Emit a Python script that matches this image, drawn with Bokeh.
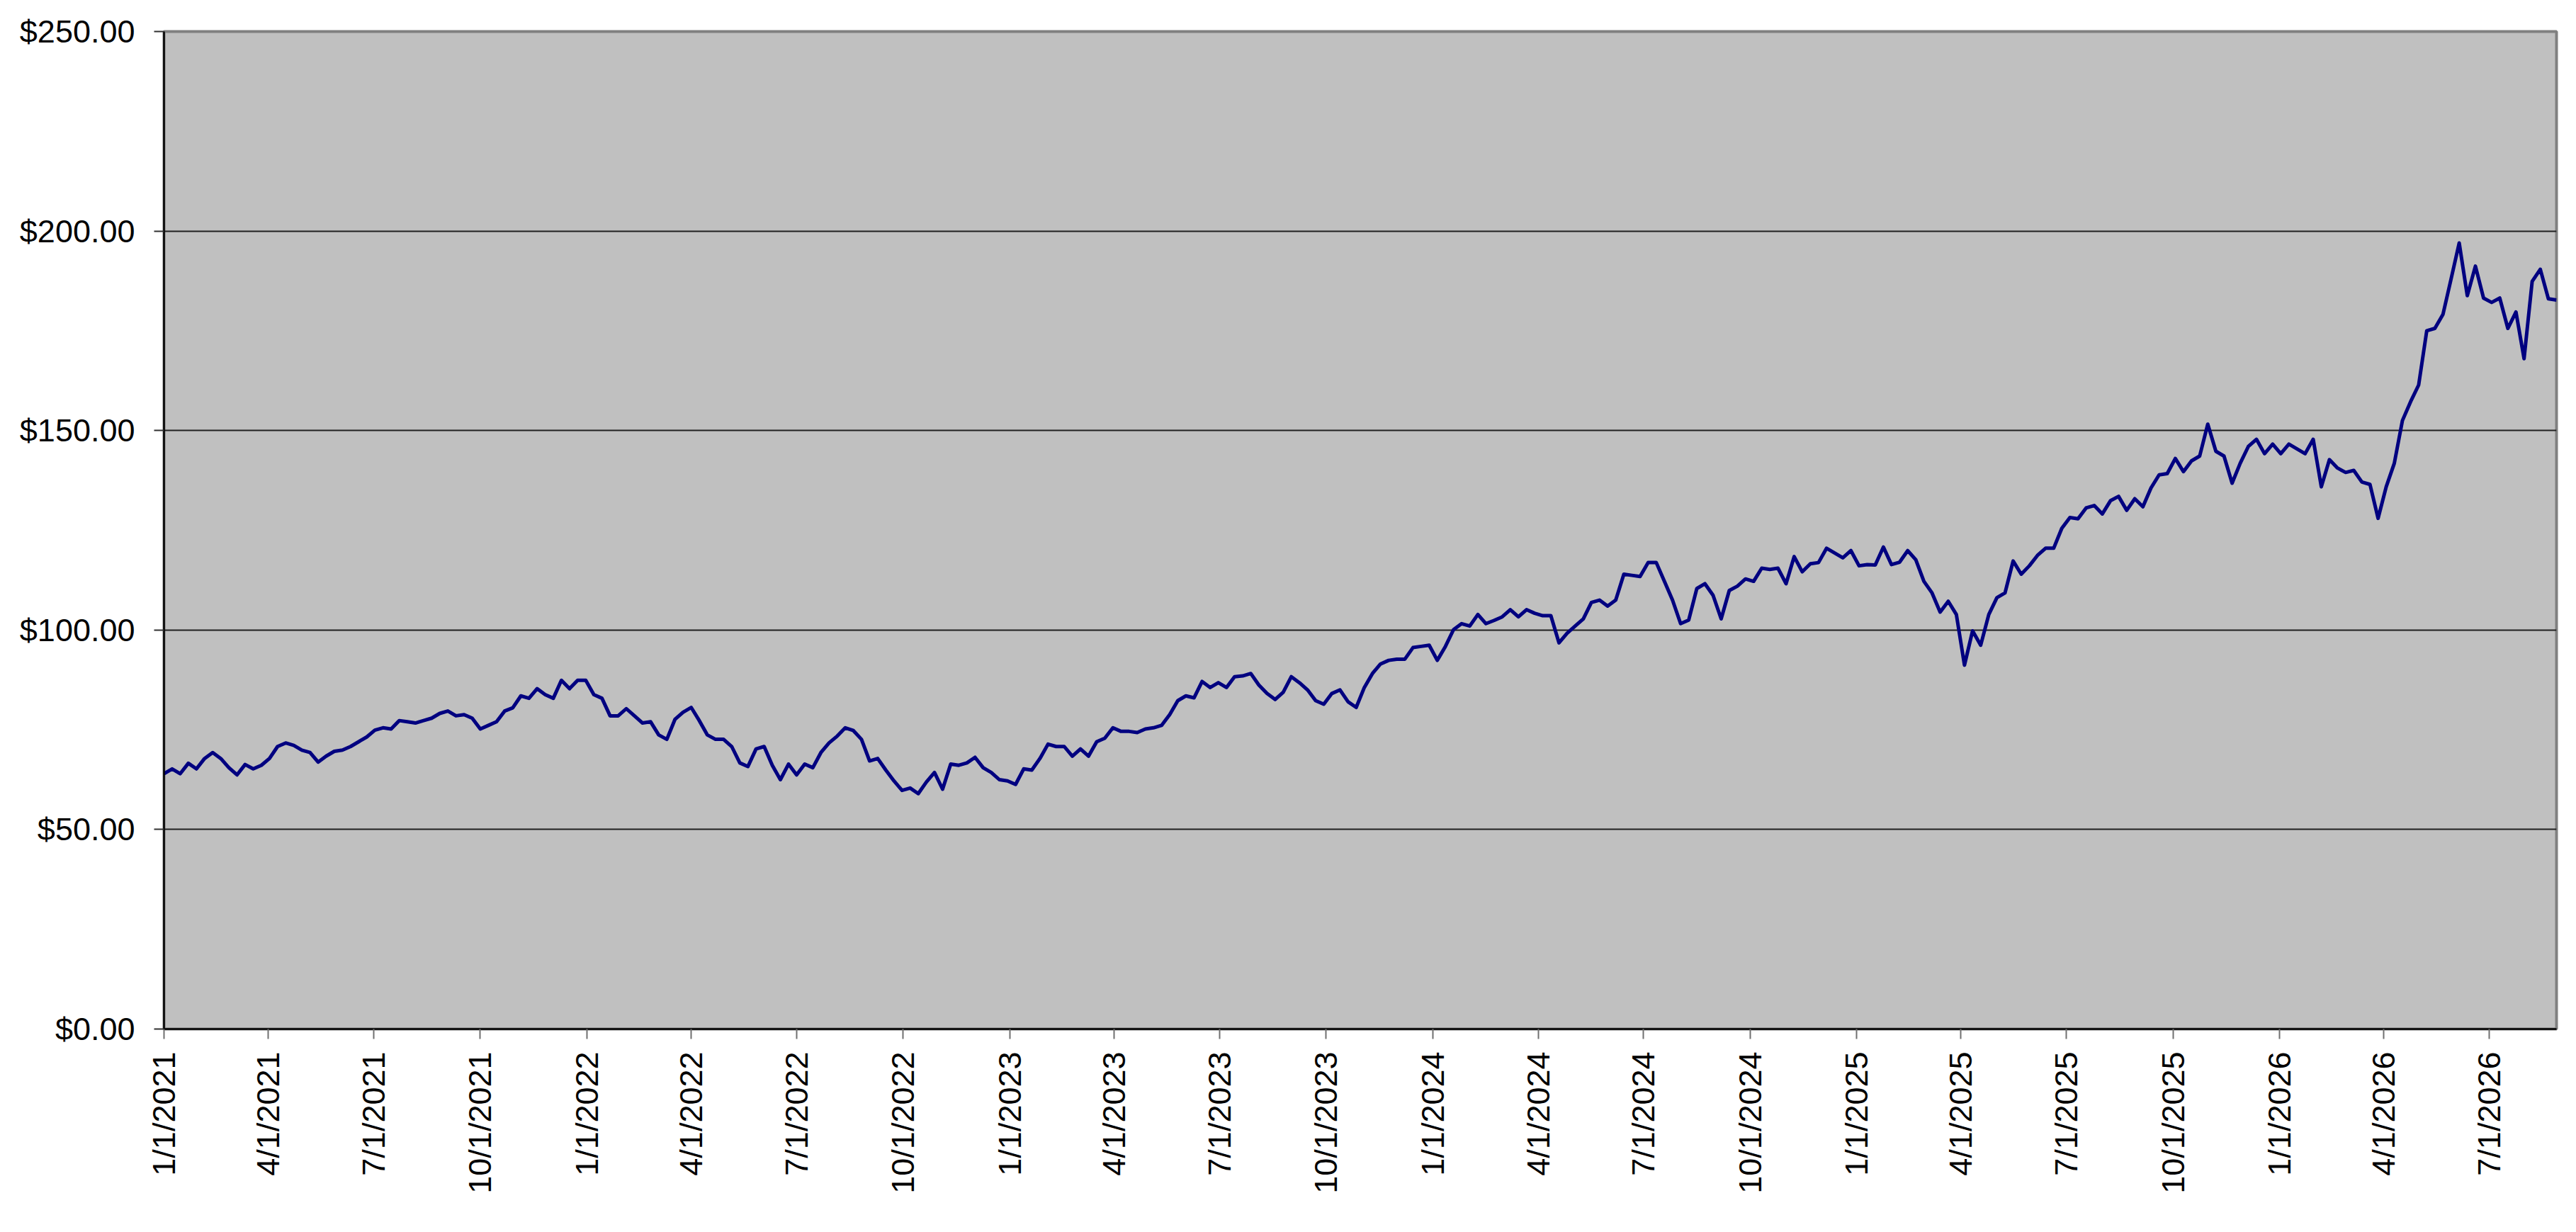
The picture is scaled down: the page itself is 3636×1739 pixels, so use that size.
import pandas as pd
from bokeh.plotting import figure
from bokeh.models import (Range1d, FixedTicker, NumeralTickFormatter,
                          CustomJSTickFormatter, ColumnDataSource)
from bokeh.embed import file_html
from bokeh.resources import INLINE

start_date = "2021-01-01"
end_date = "2026-08-28"

prices = [
    64.0, 65.2, 64.0, 66.6, 65.2, 67.8, 69.3, 67.8, 65.5, 63.7,
    66.3, 65.2, 66.1, 67.8, 70.8, 71.7, 71.1, 69.9, 69.3, 66.9,
    68.4, 69.6, 69.9, 70.8, 72.0, 73.2, 74.9, 75.5, 75.2, 77.3,
    77.0, 76.7, 77.3, 77.9, 79.1, 79.7, 78.5, 78.8, 77.9, 75.2,
    76.1, 77.0, 79.7, 80.5, 83.5, 82.9, 85.3, 83.8, 82.9, 87.4,
    85.3, 87.4, 87.4, 83.8, 82.9, 78.5, 78.5, 80.3, 78.5, 76.7,
    77.0, 73.7, 72.6, 77.6, 79.4, 80.6, 77.3, 73.7, 72.6, 72.6,
    70.8, 66.7, 65.8, 70.2, 70.8, 66.1, 62.5, 66.4, 63.7, 66.4,
    65.5, 69.3, 71.7, 73.4, 75.5, 74.8, 72.6, 67.2, 67.8, 64.9,
    62.2, 59.8, 60.4, 59.0, 61.9, 64.3, 60.1, 66.4, 66.1, 66.7,
    68.1, 65.5, 64.3, 62.5, 62.2, 61.3, 65.2, 64.9, 67.8, 71.4,
    70.8, 70.8, 68.4, 70.2, 68.4, 72.0, 72.9, 75.5, 74.6, 74.6,
    74.3, 75.2, 75.5, 76.1, 78.8, 82.3, 83.5, 83.0, 87.1, 85.6,
    86.8, 85.6, 88.3, 88.5, 89.1, 86.2, 84.1, 82.6, 84.4, 88.3,
    86.8, 85.0, 82.3, 81.4, 84.1, 85.0, 82.0, 80.6, 85.6, 89.1,
    91.5, 92.4, 92.7, 92.7, 95.6, 95.9, 96.2, 92.4, 95.9, 100.1,
    101.6, 101.0, 103.9, 101.6, 102.4, 103.3, 105.1, 103.3, 105.1, 104.2,
    103.6, 103.6, 96.8, 99.2, 101.0, 102.8, 106.9, 107.5, 106.0, 107.5,
    114.0, 113.7, 113.4, 116.9, 116.9, 112.2, 107.5, 101.6, 102.5, 110.4,
    111.6, 108.7, 102.8, 109.9, 111.0, 112.8, 112.2, 115.5, 115.2, 115.5,
    111.6, 118.4, 114.6, 116.6, 116.9, 120.5, 119.3, 118.1, 119.9, 116.1,
    116.4, 116.3, 120.8, 116.4, 117.0, 119.9, 117.6, 112.2, 109.3, 104.5,
    107.2, 103.9, 91.2, 99.8, 96.2, 103.9, 108.1, 109.3, 117.3, 114.0,
    116.1, 118.7, 120.5, 120.5, 125.5, 128.2, 127.9, 130.6, 131.2, 129.1,
    132.4, 133.5, 130.0, 132.9, 130.9, 135.6, 138.9, 139.2, 143.0, 139.7,
    142.4, 143.6, 151.6, 144.8, 143.6, 136.8, 141.8, 146.0, 147.8, 144.2,
    146.6, 144.2, 146.6, 145.4, 144.2, 147.8, 135.9, 142.7, 140.6, 139.5,
    140.0, 137.1, 136.5, 128.0, 135.9, 141.8, 152.5, 157.2, 161.4, 175.0,
    175.6, 179.1, 188.0, 197.0, 183.8, 191.2, 183.2, 182.1, 183.2, 175.6,
    179.7, 168.0, 187.4, 190.4, 183.0, 182.7,
]

x_tick_dates = [
    "2021-01-01", "2021-04-01", "2021-07-01", "2021-10-01",
    "2022-01-01", "2022-04-01", "2022-07-01", "2022-10-01",
    "2023-01-01", "2023-04-01", "2023-07-01", "2023-10-01",
    "2024-01-01", "2024-04-01", "2024-07-01", "2024-10-01",
    "2025-01-01", "2025-04-01", "2025-07-01", "2025-10-01",
    "2026-01-01", "2026-04-01", "2026-07-01",
]
y_ticks = [0, 50, 100, 150, 200, 250]

dates = pd.date_range(start_date, periods=len(prices), freq="7D")
src = ColumnDataSource(dict(date=dates, price=prices))

FONT = "Liberation Sans"

p = figure(width=3628, height=1730, x_axis_type="datetime",
           output_backend="svg", toolbar_location=None,
           x_range=Range1d(pd.Timestamp(start_date), pd.Timestamp(end_date)),
           y_range=Range1d(0, 250),
           min_border_left=231, min_border_right=20,
           min_border_top=44, min_border_bottom=278)

p.background_fill_color = "#C0C0C0"
p.border_fill_color = "white"
p.outline_line_color = "#808080"
p.outline_line_width = 4

p.line("date", "price", source=src, line_color="#000080", line_width=5,
       line_join="round")

tick_ms = [pd.Timestamp(d).value / 1e6 for d in x_tick_dates]
p.xaxis.ticker = FixedTicker(ticks=tick_ms)
p.xaxis.formatter = CustomJSTickFormatter(code="""
    const d = new Date(tick);
    return (d.getUTCMonth() + 1) + "/" + d.getUTCDate() + "/" + d.getUTCFullYear();
""")
p.xaxis.major_label_orientation = 1.5707963267948966
p.yaxis.ticker = FixedTicker(ticks=y_ticks)
p.yaxis.formatter = NumeralTickFormatter(format="$0.00")

for ax in (p.xaxis, p.yaxis):
    ax.major_label_text_font = FONT
    ax.major_label_text_font_size = "45px"
    ax.major_label_text_color = "black"
    ax.axis_line_color = "black"
    ax.axis_line_width = 2.5
    ax.major_tick_out = 14
    ax.major_tick_in = 0
    ax.minor_tick_line_color = None
    ax.major_tick_line_width = 2

p.xaxis.major_tick_line_color = "#707070"
p.yaxis.major_tick_line_color = "#303030"
p.xaxis.major_label_standoff = 18
p.yaxis.major_label_standoff = 27

p.xgrid.grid_line_color = None
p.ygrid.ticker = FixedTicker(ticks=y_ticks)
p.ygrid.grid_line_color = "#202020"
p.ygrid.grid_line_width = 2

open("out.html", "w").write(file_html(p, INLINE))
